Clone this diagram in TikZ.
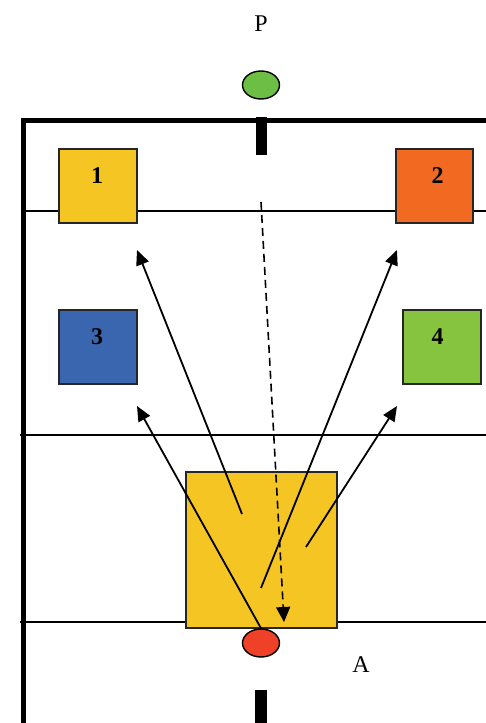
\documentclass[tikz,border=0pt]{standalone}
\usepackage{fontspec}
\setmainfont{Liberation Serif}
\usetikzlibrary{positioning, arrows.meta, shapes.geometric}
\definecolor{zoneYellow}{RGB}{245,198,35}
\definecolor{zoneOrange}{RGB}{242,106,34}
\definecolor{zoneBlue}{RGB}{58,102,176}
\definecolor{zoneGreen}{RGB}{134,195,63}
\definecolor{playerGreen}{RGB}{108,190,69}
\definecolor{playerRed}{RGB}{239,65,40}
\tikzset{
	zonebox/.style={rectangle, draw=black!85, line width=1.5pt, inner sep=0pt,
		minimum width=78pt, minimum height=74pt},
	zonenum/.style={font=\bfseries\fontsize{24}{24}\selectfont, inner sep=0pt,
		anchor=north, yshift=-19pt},
	player/.style={ellipse, draw=black, line width=1.4pt, inner sep=0pt,
		minimum width=37pt, minimum height=28pt},
	tag/.style={font=\fontsize{24}{24}\selectfont, inner sep=0pt},
	fieldline/.style={line width=2pt},
	border/.style={line width=5pt, line join=miter},
	passarr/.style={-{Triangle[length=15pt, width=13pt]}, line width=1.8pt},
	runarr/.style={-{Triangle[length=15pt, width=14pt]}, line width=1.6pt,
		dash pattern=on 8pt off 5pt}
}
\begin{document}
\begin{tikzpicture}[x=1pt, y=-1pt]
	\useasboundingbox (0,0) rectangle (486,723);
	% field markings
	\draw[fieldline] (24,211) -- (486,211);
	\draw[fieldline] (20,435) -- (486,435);
	\draw[fieldline] (20,622) -- (486,622);
	\draw[border] (23.5,723) -- (23.5,120) -- (486,120);
	\fill (256,117) rectangle (267,155);
	\fill (255,690) rectangle (267,723);
	% zones
	\node[zonebox, fill=zoneYellow, label={[zonenum, xshift=-1pt]north:1}] (zone1) at (98,186) {};
	\node[zonebox, fill=zoneOrange, minimum width=77pt, label={[zonenum, xshift=3pt]north:2}] (zone2) at (434.5,186) {};
	\node[zonebox, fill=zoneBlue, label={[zonenum, xshift=-1pt]north:3}] (zone3) at (98,347) {};
	\node[zonebox, fill=zoneGreen, label={[zonenum, xshift=-4.5pt]north:4}] (zone4) at (442,347) {};
	\node[zonebox, fill=zoneYellow, minimum width=151pt, minimum height=156pt] (start) at (261.5,550) {};
	% players
	\node[player, fill=playerGreen] (pgreen) at (261,85) {};
	\node[tag] (plabel) at (261,24) {P};
	\node[player, fill=playerRed] (pred) at (261,643) {};
	\node[tag] (alabel) at (361,665) {A};
	% arrow ends
	\coordinate (s1) at (242,514);
	\coordinate (s2) at (261,588);
	\coordinate (s3) at (306,547);
	\coordinate (t1) at (137,250);
	\coordinate (t2) at (397,250);
	\coordinate (t3) at (397,406);
	\coordinate (t4) at (137,406);
	\coordinate (rs) at (261,202);
	\coordinate (rt) at (284,622);
	\draw[passarr] (s1) -- (t1);
	\draw[passarr] (s2) -- (t2);
	\draw[passarr] (s3) -- (t3);
	\draw[passarr] (pred.north) -- (t4);
	\draw[runarr] (rs) -- (rt);
\end{tikzpicture}
\end{document}
